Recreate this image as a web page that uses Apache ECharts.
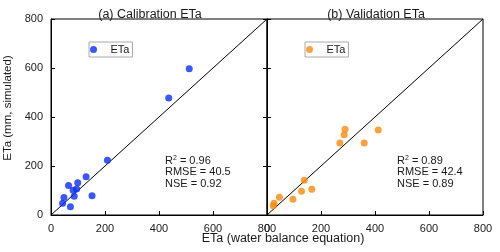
<!DOCTYPE html>
<html><head><meta charset="utf-8">
<script src="https://cdn.jsdelivr.net/npm/echarts@6/dist/echarts.min.js"></script>
<style>html,body{margin:0;padding:0;background:#fff}#c{width:500px;height:252px}</style>
</head><body><div id="c"></div>
<script>
// Data
const calibration = [[512,597],[436,478],[209,223],[130,156],[99,132],[65,120],[82,101],[95,106],[86,77],[152,79],[48,71],[43,48],[72,34]];
const validation = [[289,350],[286,328],[412,347],[270,294],[360,294],[138,142],[128,97],[166,105],[46,72],[96,64],[26,48],[23,38]];
const diagonal = [[0,0],[800,800]];
const axisTicks = {min:0, max:800, interval:200};
const titles = ['(a) Calibration ETa','(b) Validation ETa'];
const axisNames = {x:'ETa (water balance equation)', y:'ETa (mm, simulated)'};
const statsA = ['R{s|2} = 0.96','RMSE = 40.5','NSE = 0.92'];
const statsB = ['R{s|2} = 0.89','RMSE = 42.4','NSE = 0.89'];

const FONT = 'Liberation Sans, Arial, sans-serif';
const TXT = '#1a1a1a';
const chart = echarts.init(document.getElementById('c'), null, {renderer:'canvas'});

function xAx(gi){
  return {gridIndex:gi, type:'value', min:axisTicks.min, max:axisTicks.max, interval:axisTicks.interval,
    axisLine:{show:true, onZero:false, lineStyle:{color:'#000', width:1}},
    axisTick:{show:true, inside:true, length:4, lineStyle:{color:'#000'}},
    axisLabel:{show:true, margin:8, color:TXT, fontSize:11, fontFamily:FONT},
    splitLine:{show:false}};
}
function yAx(gi, pos, labels){
  return {gridIndex:gi, type:'value', position:pos, min:axisTicks.min, max:axisTicks.max, interval:axisTicks.interval,
    axisLine:{show:true, onZero:false, lineStyle:{color:'#000', width:1}},
    axisTick:{show:true, inside:true, length:4, lineStyle:{color:'#000'}},
    axisLabel:{show:labels, margin:8, color:TXT, fontSize:11, fontFamily:FONT},
    splitLine:{show:false}};
}
function statGraphic(x, lines){
  return {type:'text', left:x, top:155, style:{
    text: lines.join('\n'), fill:TXT, font:'11px '+FONT, lineHeight:11.5,
    rich:{s:{fontSize:7, verticalAlign:'top', padding:[0,0,5,0], fill:TXT, fontFamily:FONT}}
  }};
}
function legend(left, top, name){
  return {show:true, left:left, top:top, orient:'horizontal', data:[name],
    borderColor:'#aaa', borderWidth:1, padding:[2,3,2,1], itemWidth:8, itemHeight:7,
    formatter:()=> 'ETa', selectedMode:false,
    textStyle:{color:TXT, fontSize:11, fontFamily:FONT, padding:[0,0,0,8]}};
}

chart.setOption({
  animation:false,
  backgroundColor:'#fff',
  title:[
    {text:titles[0], left:145, top:3, textAlign:'center', textStyle:{fontSize:12.5, fontWeight:'normal', color:TXT, fontFamily:FONT}},
    {text:titles[1], left:371, top:3, textAlign:'center', textStyle:{fontSize:12.5, fontWeight:'normal', color:TXT, fontFamily:FONT}}
  ],
  legend:[legend(89, 42, 'cal'), legend(305, 42, 'val')],
  grid:[
    {left:51, top:19, width:216, height:196, show:true, borderColor:'#000', borderWidth:1, backgroundColor:'transparent'},
    {left:267, top:19, width:216, height:196, show:true, borderColor:'#000', borderWidth:1, backgroundColor:'transparent'}
  ],
  xAxis:[xAx(0), xAx(1)],
  yAxis:[yAx(0,'left',true), yAx(0,'right',false), yAx(1,'left',false)],
  graphic:[
    {type:'text', rotation:Math.PI/2, x:8, y:108, style:{text:axisNames.y, fill:TXT, font:'11.5px '+FONT, align:'center', verticalAlign:'middle'}},
    {type:'text', x:283, y:239, style:{text:axisNames.x, fill:TXT, font:'12.5px '+FONT, align:'center', verticalAlign:'middle'}},
    statGraphic(165, statsA),
    statGraphic(397, statsB)
  ],
  series:[
    {type:'line', xAxisIndex:0, yAxisIndex:0, data:diagonal, showSymbol:false, silent:true, lineStyle:{color:'#000', width:1}, z:1},
    {type:'line', xAxisIndex:1, yAxisIndex:2, data:diagonal, showSymbol:false, silent:true, lineStyle:{color:'#000', width:1}, z:1},
    {name:'cal', type:'scatter', xAxisIndex:0, yAxisIndex:0, data:calibration, symbolSize:7, itemStyle:{color:'#0b2df7'}, z:3},
    {name:'val', type:'scatter', xAxisIndex:1, yAxisIndex:2, data:validation, symbolSize:7, itemStyle:{color:'#fb8a0c'}, z:3}
  ]
});
</script></body></html>
